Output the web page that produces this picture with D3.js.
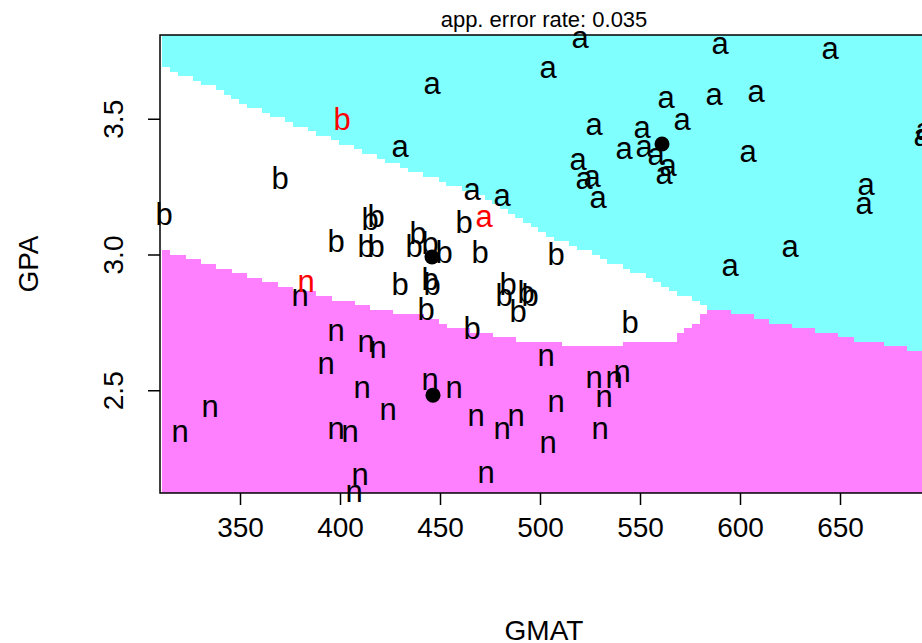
<!DOCTYPE html>
<html>
<head>
<meta charset="utf-8">
<script src="https://cdn.jsdelivr.net/npm/d3@7"></script>
<style>
body { margin: 0; background: #fff; }
#chart svg { display: block; font-family: "Liberation Sans", Arial, sans-serif; }
</style>
</head>
<body>
<div id="chart"></div>
<script>
// group a (admit)
var admitGMAT = [596, 473, 482, 527, 505, 693, 626, 663, 447, 588, 563, 553, 572, 591, 692, 528, 552, 520, 543, 523, 530, 564, 565, 431, 605, 664, 609, 559, 521, 646, 467];
var admitGPA  = [2.96, 3.14, 3.22, 3.29, 3.69, 3.46, 3.03, 3.19, 3.63, 3.59, 3.30, 3.40, 3.50, 3.78, 3.44, 3.48, 3.47, 3.35, 3.39, 3.28, 3.21, 3.58, 3.33, 3.40, 3.38, 3.26, 3.60, 3.37, 3.80, 3.76, 3.24];
var admitWrong = [1];

// group b (borderline)
var borderGMAT = [494, 496, 419, 371, 447, 313, 402, 485, 444, 416, 471, 490, 431, 446, 546, 467, 463, 440, 419, 509, 438, 399, 483, 453, 414, 446];
var borderGPA  = [2.86, 2.85, 3.14, 3.28, 2.89, 3.15, 3.50, 2.89, 2.80, 3.13, 3.01, 2.79, 2.89, 2.91, 2.75, 2.73, 3.12, 3.08, 3.03, 3.00, 3.03, 3.05, 2.85, 3.01, 3.03, 3.04];
var borderWrong = [6];

// group n (not admitted)
var notGMAT = [446, 425, 474, 531, 542, 406, 412, 458, 399, 482, 420, 414, 533, 509, 504, 336, 408, 469, 538, 505, 489, 411, 321, 394, 528, 399, 381, 384];
var notGPA  = [2.54, 2.43, 2.20, 2.36, 2.57, 2.35, 2.51, 2.51, 2.36, 2.36, 2.66, 2.68, 2.48, 2.46, 2.63, 2.44, 2.13, 2.41, 2.55, 2.31, 2.41, 2.19, 2.35, 2.60, 2.55, 2.72, 2.85, 2.90];
var notWrong = [27];

// group centres (black dots)
var centreGMAT = [561, 446, 446.5];
var centreGPA  = [3.407, 2.991, 2.482];

// class boundaries
// cyan above this line
var upperGMAT = [310, 329, 348.5, 362.5, 386, 406, 421, 437.5, 463.5, 478.5, 496.5, 510, 518.5, 556.5, 565, 578.5, 583.5, 595, 606.5, 617.5, 630, 641, 653.5, 664, 675, 691, 694];
var upperGPA  = [3.691, 3.643, 3.569, 3.521, 3.451, 3.396, 3.348, 3.304, 3.238, 3.182, 3.101, 3.053, 3.028, 2.906, 2.869, 2.832, 2.792, 2.788, 2.770, 2.748, 2.733, 2.714, 2.692, 2.678, 2.663, 2.645, 2.641];
// magenta below this line
var lowerGMAT = [310, 317.5, 325, 334, 341.5, 348.5, 356, 364, 371.5, 384, 391, 399, 410, 418.5, 426, 437.5, 448.5, 456.5, 483.5, 495, 515, 530, 556.5, 567.5, 571.5, 579, 583.5];
var lowerGPA  = [3.013, 3.006, 2.987, 2.969, 2.947, 2.932, 2.917, 2.899, 2.880, 2.862, 2.851, 2.832, 2.814, 2.796, 2.788, 2.785, 2.751, 2.733, 2.696, 2.678, 2.667, 2.667, 2.674, 2.685, 2.714, 2.748, 2.792];

var xTicks = [350, 400, 450, 500, 550, 600, 650];
var yTicks = [2.5, 3.0, 3.5];
var title = "app. error rate: 0.035";

var colors = { a: "#80FFFF", b: "#FFFFFF", n: "#FF80FF" };

var width = 922, height = 643;
var plot = { left: 160, right: 928, top: 35, bottom: 493 };

var svg = d3.select("#chart").append("svg")
	.attr("width", width)
	.attr("height", height);

var x = d3.scaleLinear().domain([310, 694]).range([plot.left, plot.right]);
var y = d3.scaleLinear().domain([2.1216, 3.8084]).range([plot.bottom, plot.top]);

// raster of the partition, 100 x 100 cells like partimat
var prec = 100;
var gx = d3.range(prec).map(function(i) { return 313 + i * (693 - 313) / (prec - 1); });
var gy = d3.range(prec).map(function(i) { return 2.13 + i * (3.80 - 2.13) / (prec - 1); });
var dgx = gx[1] - gx[0], dgy = gy[1] - gy[0];

var upper = d3.scaleLinear().domain(upperGMAT).range(upperGPA).clamp(true);
var lower = d3.scaleLinear().domain(lowerGMAT).range(lowerGPA).clamp(true);

var columns = gx.map(function(g) {
	var up = upper(g);
	var lo = g <= 583.5 ? lower(g) : up;
	var kc = gy.findIndex(function(v) { return v > up; });
	var km = -1;
	gy.forEach(function(v, j) { if (v < lo) km = j; });
	return { g: g, kc: kc, km: km };
});

var raster = svg.append("g").attr("shape-rendering", "crispEdges");

raster.selectAll(".col-a")
	.data(columns.filter(function(d) { return d.kc >= 0; }))
	.enter().append("rect")
	.attr("x", function(d) { return x(d.g - dgx / 2); })
	.attr("width", function(d) { return x(d.g + dgx / 2) - x(d.g - dgx / 2) + 0.5; })
	.attr("y", function(d) { return y(gy[prec - 1] + dgy / 2); })
	.attr("height", function(d) { return y(gy[d.kc] - dgy / 2) - y(gy[prec - 1] + dgy / 2); })
	.attr("fill", colors.a);

raster.selectAll(".col-n")
	.data(columns.filter(function(d) { return d.km >= 0; }))
	.enter().append("rect")
	.attr("x", function(d) { return x(d.g - dgx / 2); })
	.attr("width", function(d) { return x(d.g + dgx / 2) - x(d.g - dgx / 2) + 0.5; })
	.attr("y", function(d) { return y(gy[d.km] + dgy / 2); })
	.attr("height", function(d) { return y(gy[0] - dgy / 2) - y(gy[d.km] + dgy / 2); })
	.attr("fill", colors.n);

// letters
var groups = [
	{ label: "a", gmat: admitGMAT, gpa: admitGPA, wrong: admitWrong },
	{ label: "b", gmat: borderGMAT, gpa: borderGPA, wrong: borderWrong },
	{ label: "n", gmat: notGMAT, gpa: notGPA, wrong: notWrong }
];

var points = [];
groups.forEach(function(grp) {
	grp.gmat.forEach(function(g, i) {
		points.push({ label: grp.label, gmat: g, gpa: grp.gpa[i], wrong: grp.wrong.indexOf(i) >= 0 });
	});
});

svg.append("g")
	.selectAll("text")
	.data(points)
	.enter().append("text")
	.attr("x", function(d) { return x(d.gmat) - 2; })
	.attr("y", function(d) { return y(d.gpa); })
	.attr("dy", "0.35em")
	.attr("text-anchor", "middle")
	.style("font-size", "31px")
	.style("fill", function(d) { return d.wrong ? "#FF0000" : "#000"; })
	.text(function(d) { return d.label; });

svg.append("g")
	.selectAll("circle")
	.data(centreGMAT)
	.enter().append("circle")
	.attr("cx", function(d) { return x(d); })
	.attr("cy", function(d, i) { return y(centreGPA[i]); })
	.attr("r", 7.5)
	.attr("fill", "#000");

// box
svg.append("rect")
	.attr("x", plot.left)
	.attr("y", plot.top)
	.attr("width", plot.right - plot.left)
	.attr("height", plot.bottom - plot.top)
	.attr("fill", "none")
	.attr("stroke", "#000")
	.attr("stroke-width", 1.5);

// x axis
var gxAxis = svg.append("g")
	.attr("transform", "translate(0," + plot.bottom + ")")
	.call(d3.axisBottom(x).tickValues(xTicks).tickSize(12).tickPadding(12).tickFormat(d3.format("d")));
gxAxis.select(".domain").remove();
gxAxis.selectAll("line").attr("stroke-width", 1.5);
gxAxis.selectAll("text")
	.attr("fill", "#000")
	.style("font-size", "28px")
	.style("font-family", "'Liberation Sans', Arial, sans-serif");

// y axis, labels rotated like R
var gyAxis = svg.append("g")
	.attr("transform", "translate(" + plot.left + ",0)")
	.call(d3.axisLeft(y).tickValues(yTicks).tickSize(12).tickFormat(d3.format(".1f")));
gyAxis.select(".domain").remove();
gyAxis.selectAll("line").attr("stroke-width", 1.5);
gyAxis.selectAll("text")
	.attr("x", null)
	.attr("text-anchor", "middle")
	.attr("transform", "translate(-47,0) rotate(-90)")
	.attr("dy", "0.35em")
	.attr("fill", "#000")
	.style("font-size", "28px")
	.style("font-family", "'Liberation Sans', Arial, sans-serif");

// axis titles
svg.append("text")
	.attr("x", (plot.left + plot.right) / 2)
	.attr("y", 640)
	.attr("text-anchor", "middle")
	.style("font-size", "28px")
	.text("GMAT");

svg.append("text")
	.attr("transform", "translate(38," + (plot.top + plot.bottom) / 2 + ") rotate(-90)")
	.attr("text-anchor", "middle")
	.style("font-size", "28px")
	.text("GPA");

svg.append("text")
	.attr("x", (plot.left + plot.right) / 2)
	.attr("y", 27)
	.attr("text-anchor", "middle")
	.style("font-size", "22px")
	.text(title);
</script>
</body>
</html>
